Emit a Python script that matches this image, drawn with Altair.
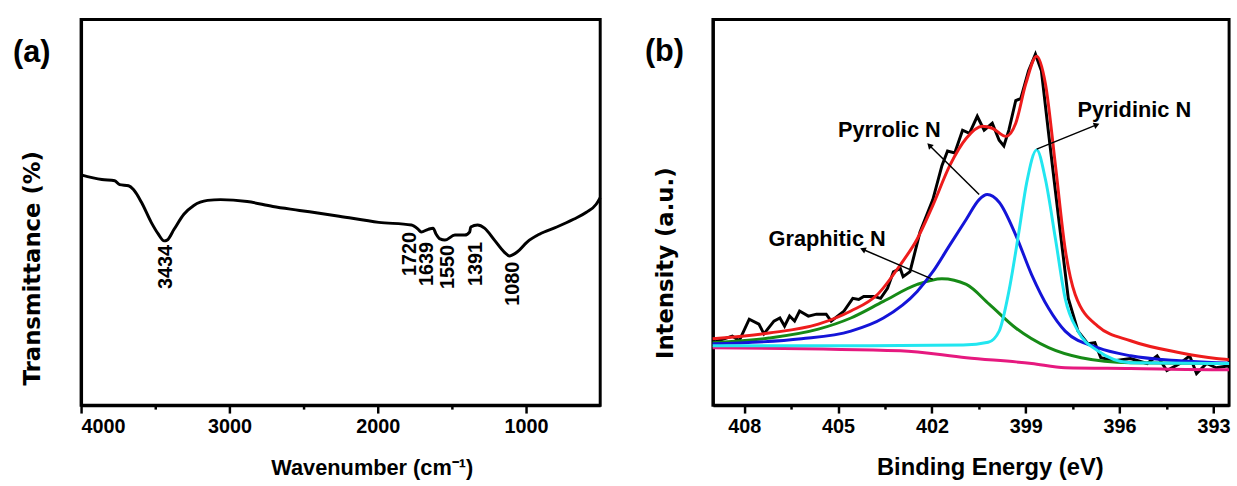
import altair as alt
import pandas as pd

FONT = "Liberation Sans"
YFONT = "DejaVu Sans"

# ---------------- Panel (a): FTIR ----------------
ftir_wn = [4000, 3860, 3773, 3740, 3680, 3647, 3593, 3527, 3480, 3440, 3420, 3373, 3307, 3240,
           3147, 3060, 2880, 2707, 2527, 2260, 1993, 1773, 1727, 1707, 1660, 1627, 1607, 1580,
           1547, 1480, 1413, 1380, 1373, 1327, 1280, 1213, 1147, 1113, 1060, 993, 907, 793,
           680, 593, 527, 500]
ftir_t = [59.7, 58.5, 58.2, 57.2, 56.9, 55.9, 52.6, 47.4, 44.4, 42.6, 42.8, 45.6, 49.5, 51.8,
          53.1, 53.3, 52.8, 51.5, 50.5, 49.0, 47.4, 46.7, 45.6, 44.9, 45.6, 45.9, 44.4, 43.1,
          42.8, 44.1, 44.1, 44.9, 46.2, 46.7, 45.9, 42.8, 39.7, 38.7, 39.7, 42.3, 44.4, 46.2,
          48.2, 50.0, 52.1, 53.8]
peak_labels = ["3434", "1720", "1639", "1550", "1391", "1080"]
peak_label_x = [3427, 1780, 1667, 1527, 1340, 1087]
peak_label_y = [41.5, 44.9, 42.3, 41.5, 42.3, 37.2]

# ---------------- Panel (b): XPS N1s ----------------
raw_e = [409.01, 408.38, 408.16, 407.84, 407.53, 407.37, 407.05, 406.86, 406.71, 406.55, 406.39,
         406.23, 405.95, 405.69, 405.38, 405.22, 404.81, 404.53, 404.34, 404.18, 403.86, 403.64,
         403.42, 403.23, 403.01, 402.92, 402.70, 402.38, 401.97, 401.68, 401.50, 401.27, 401.02,
         400.80, 400.55, 400.33, 400.07, 399.85, 399.70, 399.54, 399.32, 399.16, 398.91, 398.69,
         398.50, 398.27, 397.96, 397.64, 397.33, 397.01, 396.79, 396.60, 396.16, 395.65, 395.12,
         394.80, 394.49, 394.07, 393.76, 393.54, 393.22, 392.91, 392.5]
raw_i = [16.2, 17.9, 16.7, 22.3, 21.0, 18.5, 21.8, 22.6, 20.5, 23.1, 21.8,
         24.4, 23.1, 23.6, 23.6, 21.8, 24.4, 27.7, 27.4, 28.2, 28.2, 27.7,
         30.3, 34.6, 35.4, 33.3, 34.6, 44.9, 53.3, 62.1, 65.9, 65.4, 71.3,
         70.5, 74.9, 71.3, 73.1, 68.7, 67.2, 71.3, 79.0, 79.5, 86.7, 91.0,
         86.7, 70.5, 49.2, 27.7, 19.2, 15.9, 16.2, 12.3, 11.5, 12.1, 10.8,
         12.8, 9.0, 10.8, 12.8, 8.2, 10.8, 9.7, 10.2]

fit_e = [409.01, 407.21, 405.63, 404.59, 403.74, 403.01, 402.47, 401.97, 401.43, 400.90, 400.39,
         400.07, 399.63, 399.32, 399.00, 398.65, 398.37, 398.05, 397.74, 397.42, 396.70, 395.65,
         394.07, 392.91, 392.5]
fit_i = [17.2, 18.7, 21.0, 24.4, 28.7, 36.4, 43.1, 51.8, 62.1, 69.2, 72.3,
         71.8, 69.7, 73.1, 83.3, 90.5, 83.3, 62.1, 40.5, 28.7, 20.5, 16.7,
         13.6, 12.1, 11.8]

pyrrolic_e = [409.01, 406.17, 404.59, 403.55, 402.47, 401.97, 401.43, 400.90, 400.49, 400.23,
              399.85, 399.32, 398.81, 398.27, 397.74, 396.70, 395.65, 394.07, 392.91, 392.5]
pyrrolic_i = [15.9, 17.2, 19.2, 22.6, 29.5, 34.6, 41.5, 48.2, 53.3, 54.6,
              52.6, 44.1, 33.8, 25.1, 19.2, 14.9, 12.8, 11.5, 11.0, 10.9]

graphitic_e = [409.01, 407.21, 405.63, 404.59, 403.55, 402.47, 401.68, 400.90, 400.17, 399.32,
               398.27, 397.23, 395.65, 392.91, 392.5]
graphitic_i = [16.2, 17.4, 19.7, 22.6, 26.9, 31.3, 32.8, 31.3, 26.2, 20.0,
               14.9, 12.3, 11.0, 10.8, 10.8]

pyridinic_e = [409.01, 404.0, 401.0, 400.2, 399.85, 399.54, 399.22, 398.97, 398.65, 398.37,
               398.05, 397.74, 397.33, 396.70, 395.65, 392.91, 392.5]
pyridinic_i = [15.4, 15.4, 15.6, 16.3, 19.2, 29.5, 44.9, 57.7, 66.2, 58.5,
               43.1, 27.7, 19.2, 14.1, 11.0, 10.8, 10.8]

baseline_e = [409.01, 403.01, 400.90, 398.81, 397.74, 395.65, 392.91, 392.5]
baseline_i = [14.9, 14.1, 12.3, 10.8, 9.7, 9.5, 9.2, 9.2]

ann_text = ["Pyrrolic N", "Pyridinic N", "Graphitic N"]
ann_x = [403.36, 395.53, 405.35]
ann_y = [71.3, 76.4, 43.1]
arrow_x0 = [400.49, 398.65, 401.97]
arrow_y0 = [54.6, 66.4, 32.6]
arrow_x1 = [402.06, 396.76, 404.18]
arrow_y1 = [67.2, 72.6, 40.3]
arrow_angle = [315, 68, 293]

# ---------------- shared styling ----------------
def axis_x(title, values, major_test, title_x, fmt, title_size):
    return alt.Axis(
        title=title, values=values, format=fmt,
        labelExpr=f"({major_test}) ? datum.label : ''",
        tickSize={"condition": {"test": f"!({major_test})", "value": 4}, "value": 8},
        tickWidth=2.5, tickColor="black", domainColor="black", domainWidth=3,
        labelFont=FONT, labelFontSize=20, labelFontWeight="bold", labelColor="black",
        labelPadding=4, grid=False,
        titleFont=FONT, titleFontSize=title_size, titleFontWeight="bold", titleColor="black",
        titleX=title_x, titleY=63, titleAlign="center", titleBaseline="middle",
    )

def axis_y(title, title_x, title_y, size):
    return alt.Axis(
        title=title, ticks=False, labels=False, grid=False,
        domainColor="black", domainWidth=3,
        titleFont=YFONT, titleFontSize=size, titleFontWeight="bold", titleColor="black",
        titleAngle=270, titleX=title_x, titleY=title_y,
        titleAlign="center", titleBaseline="middle",
    )

W_A, W_B, H = 525, 522, 390
FRAME = alt.ViewBackground(stroke="black", strokeWidth=3, fill="white")

# ---------------- panel (a) ----------------
df_a = pd.DataFrame({"wn": ftir_wn, "t": ftir_t})
xa = alt.X("wn:Q", scale=alt.Scale(domain=[500, 4000], reverse=True, nice=False, zero=False),
           axis=axis_x("Wavenumber (cm\u207b\u00b9)", [4000, 3500, 3000, 2500, 2000, 1500, 1000],
                       "datum.value % 1000 == 0", 294, "d", 22))
ya = alt.Y("t:Q", scale=alt.Scale(domain=[0, 100], nice=False),
           axis=axis_y("Transmittance (%)", -49, 251, 23))

line_a = alt.Chart(df_a).mark_line(color="black", strokeWidth=3, interpolate="monotone").encode(x=xa, y=ya)

df_pl = pd.DataFrame({"wn": peak_label_x, "t": peak_label_y, "lab": peak_labels})
labels_a = alt.Chart(df_pl).mark_text(angle=270, align="right", baseline="middle", font=FONT,
                                      fontSize=20, fontWeight="bold", color="black").encode(
    x=alt.X("wn:Q"), y=alt.Y("t:Q"), text="lab:N")

tag_a = alt.Chart(pd.DataFrame({"s": ["(a)"]})).mark_text(
    font=FONT, fontSize=31, fontWeight="bold", color="black", align="center", baseline="middle"
).encode(x=alt.value(-50), y=alt.value(34), text="s:N")

panel_a = alt.layer(line_a, labels_a, tag_a).properties(width=W_A, height=H, view=FRAME)

# ---------------- panel (b) ----------------
xb_axis = axis_x("Binding Energy (eV)", [408, 406.5, 405, 403.5, 402, 400.5, 399, 397.5, 396, 394.5, 393],
                 "datum.value % 3 == 0", 280, "d", 24)
xb = alt.X("e:Q", scale=alt.Scale(domain=[392.5, 409], reverse=True, nice=False, zero=False), axis=xb_axis)
yb = alt.Y("i:Q", scale=alt.Scale(domain=[0, 100], nice=False),
           axis=axis_y("Intensity (a.u.)", -48, 246, 23))

def curve(es, vs, color, interp):
    df = pd.DataFrame({"e": es, "i": vs})
    return alt.Chart(df).mark_line(color=color, strokeWidth=3, interpolate=interp).encode(x=xb, y=yb)

layers_b = [
    curve(raw_e, raw_i, "black", "linear"),
    curve(fit_e, fit_i, "#ee1c1c", "monotone"),
    curve(baseline_e, baseline_i, "#e6197f", "monotone"),
    curve(graphitic_e, graphitic_i, "#168a16", "monotone"),
    curve(pyrrolic_e, pyrrolic_i, "#1414d8", "monotone"),
    curve(pyridinic_e, pyridinic_i, "#22e6f0", "monotone"),
]

df_ann = pd.DataFrame({"e": ann_x, "i": ann_y, "txt": ann_text})
ann = alt.Chart(df_ann).mark_text(font=FONT, fontSize=22, fontWeight="bold", color="black",
                                  align="center", baseline="middle").encode(
    x=alt.X("e:Q"), y=alt.Y("i:Q"), text="txt:N")

df_arr = pd.DataFrame({"e": arrow_x0, "i": arrow_y0, "e2": arrow_x1, "i2": arrow_y1, "ang": arrow_angle})
arrows = alt.Chart(df_arr).mark_rule(color="black", strokeWidth=1.5).encode(
    x=alt.X("e:Q"), y=alt.Y("i:Q"), x2="e2:Q", y2="i2:Q")
heads = alt.Chart(df_arr).mark_point(shape="triangle", filled=True, color="black", size=45, opacity=1).encode(
    x=alt.X("e2:Q"), y=alt.Y("i2:Q"), angle=alt.Angle("ang:Q", scale=None))

tag_b = alt.Chart(pd.DataFrame({"s": ["(b)"]})).mark_text(
    font=FONT, fontSize=31, fontWeight="bold", color="black", align="center", baseline="middle"
).encode(x=alt.value(-49), y=alt.value(33), text="s:N")

panel_b = alt.layer(*layers_b, arrows, heads, ann, tag_b).properties(width=W_B, height=H, view=FRAME)

chart = alt.hconcat(panel_a, panel_b, spacing=35).properties(
    padding={"left": 11, "top": 15, "right": 0, "bottom": 0},
    background="white",
).configure_view(stroke="black", strokeWidth=3)

chart.save("out.html", embed_options={"renderer": "svg", "actions": False})
